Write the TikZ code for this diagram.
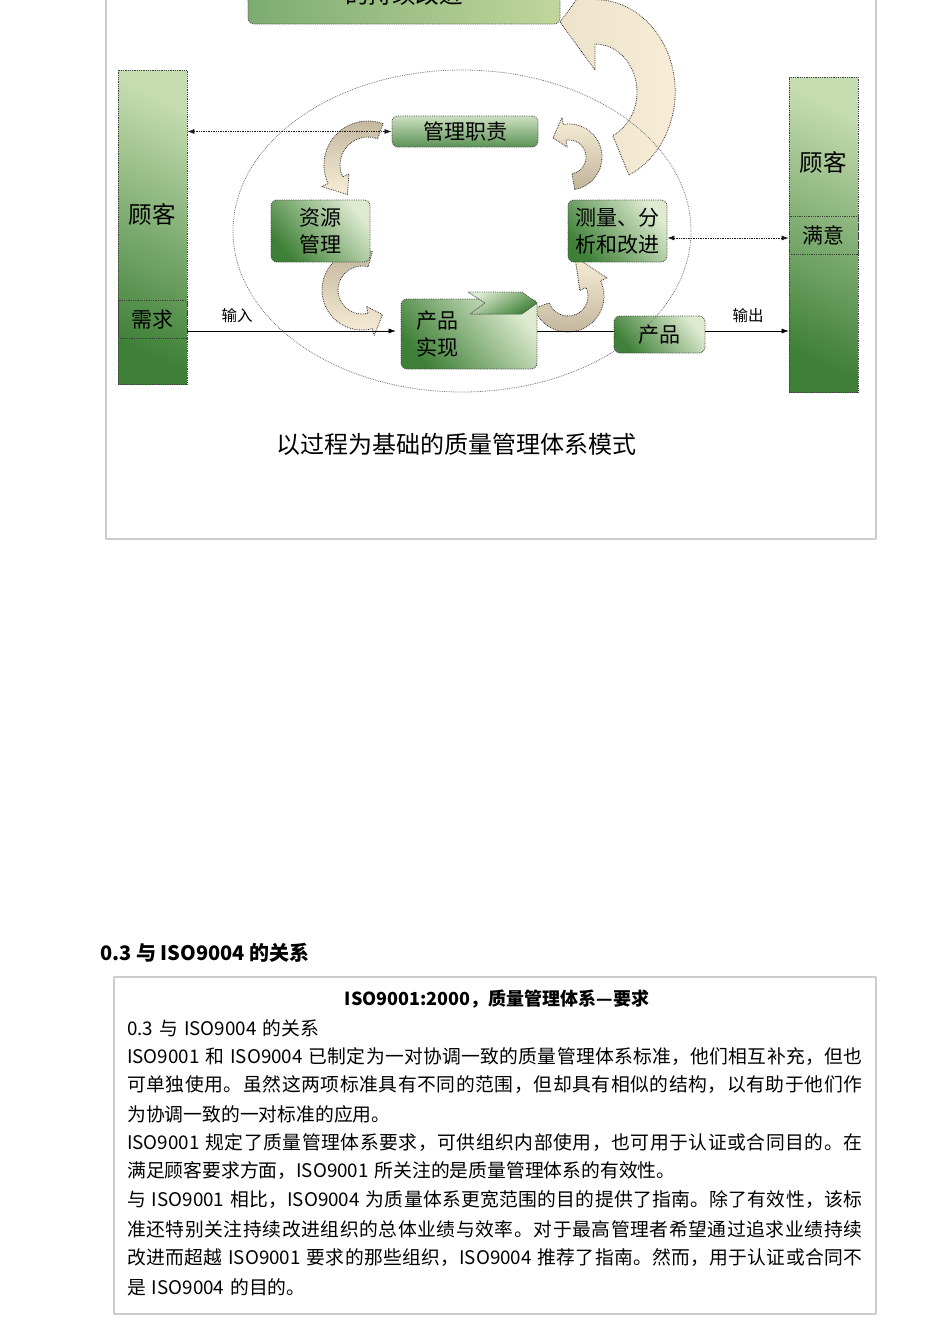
\documentclass[tikz,border=0pt]{standalone}
\usepackage{fontspec}
\setmainfont{Noto Sans CJK SC}
\usetikzlibrary{arrows.meta,calc,positioning}
\makeatletter
\count@="4E00
\loop\ifnum\count@<"A000 \XeTeXcharclass\count@=200 \advance\count@ by 1 \repeat
\makeatother
\XeTeXcharclass"3001=200 \XeTeXcharclass"3002=200 \XeTeXcharclass"FF0C=200
\XeTeXinterchartoks 200 200 = {\hskip 0pt plus 2pt\relax}
\XeTeXinterchartokenstate=1
\definecolor{gdark}{RGB}{62,128,55}
\definecolor{glight}{RGB}{222,235,208}
\definecolor{gcol}{RGB}{196,220,176}
\definecolor{gtop}{RGB}{125,172,112}
\definecolor{gtopr}{RGB}{192,214,156}
\definecolor{arwtan}{RGB}{192,180,154}
\definecolor{arwcream}{RGB}{248,238,216}
\definecolor{framegray}{RGB}{205,205,205}
\begin{document}
\begin{tikzpicture}[x=1pt, y=-1pt, line join=round, >={Latex[length=7pt,width=5pt]},
	grnbox/.style={draw=black!75, densely dotted, line width=0.8pt, rounded corners=6pt, bottom color=gdark, top color=glight, shading angle=-50, inner sep=0pt, font=\fontsize{21}{27}\selectfont, align=center},
	col/.style={draw=black!75, densely dotted, line width=0.8pt, bottom color=gdark, top color=gcol, shading angle=-25, minimum width=69pt, inner sep=0pt},
	cell/.style={draw=black!75, densely dotted, line width=0.8pt, minimum width=69pt, minimum height=38pt, inner sep=0pt, font=\fontsize{21}{26}\selectfont},
	small/.style={font=\fontsize{15.5}{18}\selectfont},
	arw/.style={draw=black!80, densely dotted, line width=0.8pt, top color=arwtan, bottom color=arwcream},
	bodyline/.style={anchor=west, inner sep=0pt, font=\fontsize{18.8}{24}\selectfont}]
	\useasboundingbox (0,0) rectangle (950,1344);
	\clip (0,0) rectangle (950,1344);
	
	\draw[framegray, line width=1.2pt] (106,0) -- (106,539) -- (876,539) -- (876,0);
	\draw[framegray, line width=1.2pt] (114,977) rectangle (876,1314);
	
	\path[arw, left color=arwcream!80!arwtan, right color=arwcream] (629,175) arc[start angle=65, end angle=-90, x radius=80, y radius=92] -- (595,-25) -- (560,22) -- (595,70) -- (595,44) arc[start angle=-90, end angle=65, x radius=42, y radius=48] -- cycle;
	
	\foreach \cx/\cy/\r/\sa/\ea/\ta/\tr/\ang in {368/165/36/-70/-205/-235/36/0, 362/290/32/-75/-285/-310/32/0, 568/296/28/160/-25/-80/40/180, 569/157/25/80/-100/-130/25/180}{
		\path[arw, shading angle=\ang] ($(\cx,\cy)+({\sa}:{\r+8})$) arc[start angle=\sa, end angle=\ea, radius=\r+8] -- ($(\cx,\cy)+({\ea}:{\r+15})$) -- ($(\cx,\cy)+({\ta}:{\tr})$) -- ($(\cx,\cy)+({\ea}:{\r-15})$) -- ($(\cx,\cy)+({\ea}:{\r-8})$) arc[start angle=\ea, end angle=\sa, radius=\r-8] -- cycle;
	}
	
	\node[grnbox, minimum width=312pt, minimum height=84pt, left color=gtop, right color=gtopr] (improve) at (404,-18) {};
	\node[anchor=base, font=\fontsize{23.6}{28}\selectfont] (improvetxt) at (404,3) {的持续改进};
	
	\node[col, minimum height=314pt] (custL) at (152.5,227) {};
	\node[font=\fontsize{23.5}{28}\selectfont] (custLtxt) at (152,214) {顾客};
	\node[cell] (need) at (152.5,319.5) {需求};
	\node[col, minimum height=315pt] (custR) at (823.5,234.5) {};
	\node[font=\fontsize{23.5}{28}\selectfont] (custRtxt) at (823,162) {顾客};
	\node[cell] (satis) at (823.5,235) {满意};
	
	\node[grnbox, minimum width=146pt, minimum height=31pt, top color=glight!90!gdark, bottom color=gdark!85] (mgmt) at (465,131.5) {管理职责};
	\node[grnbox, minimum width=99pt, minimum height=62pt] (res) at (320.5,231) {资源\\管理};
	\node[grnbox, minimum width=99pt, minimum height=62pt] (meas) at (617.5,231) {测量、分\\析和改进};
	\node[grnbox, minimum width=136pt, minimum height=70pt, text width=106pt, align=left] (real) at (469,334) {产品\\实现};
	\node[grnbox, minimum width=91pt, minimum height=37pt] (prod) at (659.5,334.5) {产品};
	\filldraw[draw=black!65, densely dotted, line width=0.8pt, top color=glight, bottom color=gdark, shading angle=30] (468,292) -- (522,292) -- (537,303) -- (522,314) -- (470,314) -- (485,303) -- cycle;
	
	\coordinate (io) at (300,331);
	\draw[<->, densely dotted, line width=0.7pt, black!90] (custL.east |- mgmt.west) -- (mgmt.west);
	\draw[<->, densely dotted, line width=0.7pt, black!90] ([yshift=-7pt]meas.east) -- ([yshift=-7pt]meas.east -| satis.west);
	\draw[->, shorten >=5pt] (need.east |- io) -- (real.west |- io);
	\draw (real.east |- io) -- (prod.west |- io);
	\draw[->] (prod.east |- io) -- (custR.west |- io);
	\node[small] (inlbl) at (237,316) {输入};
	\node[small] (outlbl) at (748,316) {输出};
	
	\draw[black!55, densely dotted, line width=0.8pt] (462,231) ellipse[x radius=229, y radius=161];
	
	\node[font=\fontsize{24}{28}\selectfont] (caption) at (456,444) {以过程为基础的质量管理体系模式};
	
	\node[anchor=west, inner sep=0pt, font=\bfseries\fontsize{20}{24}\selectfont] (sechead) at (100,953) {0.3 与 ISO9004 的关系};
	\node[font=\bfseries\fontsize{18}{22}\selectfont] (bodytitle) at (497,999) {ISO9001:2000，质量管理体系—要求};
	\foreach \i/\y/\txt in {1/1028/0.3 与 ISO9004 的关系\hfill,
		2/1057/ISO9001 和 ISO9004 已制定为一对协调一致的质量管理体系标准，他们相互补充，但也,
		3/1085/可单独使用。虽然这两项标准具有不同的范围，但却具有相似的结构，以有助于他们作,
		4/1114/为协调一致的一对标准的应用。\hfill,
		5/1143/ISO9001 规定了质量管理体系要求，可供组织内部使用，也可用于认证或合同目的。在,
		6/1171/满足顾客要求方面，ISO9001 所关注的是质量管理体系的有效性。\hfill,
		7/1200/与 ISO9001 相比，ISO9004 为质量体系更宽范围的目的提供了指南。除了有效性，该标,
		8/1229/准还特别关注持续改进组织的总体业绩与效率。对于最高管理者希望通过追求业绩持续,
		9/1258/改进而超越 ISO9001 要求的那些组织，ISO9004 推荐了指南。然而，用于认证或合同不,
		10/1287/是 ISO9004 的目的。\hfill}{
		\node[bodyline] (body\i) at (127,\y) {\hbox to 735pt{\spaceskip=6pt\relax\txt}};
	}
\end{tikzpicture}
\end{document}
